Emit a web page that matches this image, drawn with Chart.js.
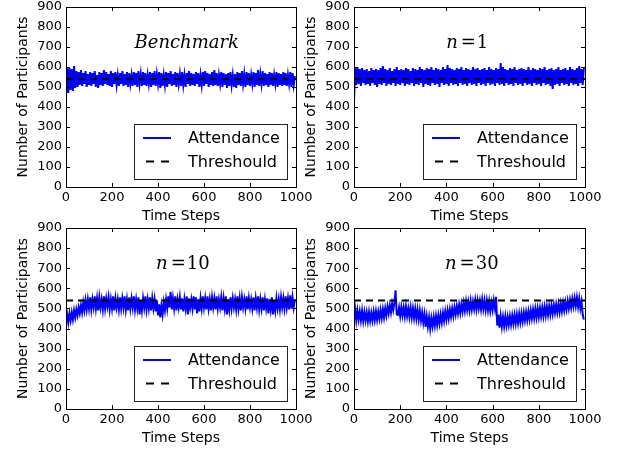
<!DOCTYPE html>
<html><head><meta charset="utf-8">
<script src="https://cdn.jsdelivr.net/npm/chart.js@4.4.1/dist/chart.umd.min.js"></script>
<style>
html,body{margin:0;padding:0;background:#fff;width:620px;height:451px;overflow:hidden}
canvas{position:absolute;left:0;top:0}
</style></head><body>
<canvas id="c0" width="620" height="451"></canvas>
<canvas id="c1" width="620" height="451"></canvas>
<canvas id="c2" width="620" height="451"></canvas>
<canvas id="c3" width="620" height="451"></canvas>
<script>
// ---------- data ----------
const timeSteps = Array.from({length: 200}, (_, i) => i * 5);   // sampled time steps 0..995
const thresholdValue = 540;
const xTickValues = [0, 200, 400, 600, 800, 1000];
const yTickValues = [0, 100, 200, 300, 400, 500, 600, 700, 800, 900];
const seriesLabels = ['Attendance', 'Threshould'];
const panelTitles = ['Benchmark', 'n=1', 'n=10', 'n=30'];

const benchmark = [
455,600,470,595,485,590,480,605,495,580,
500,575,510,585,505,570,515,580,500,565,
510,575,505,570,515,580,500,560,495,575,
510,570,505,585,515,575,510,565,505,580,
500,570,515,575,510,560,505,570,515,580,
505,565,510,575,500,570,515,560,505,575,
510,570,500,580,515,565,505,575,510,570,
505,560,515,575,500,570,510,580,505,565,
515,575,495,570,505,560,510,575,500,570,
515,580,505,565,510,575,500,570,515,565,
505,575,510,560,500,570,515,580,505,570,
510,565,505,575,515,570,500,560,510,575,
505,580,515,570,500,565,510,575,505,585,
510,570,505,560,515,575,500,570,510,565,
495,570,505,575,510,560,500,565,495,575,
510,570,505,580,515,565,500,575,510,570,
505,560,515,575,500,570,510,585,505,565,
515,580,505,570,510,565,500,575,510,570,
505,560,515,575,500,570,510,565,505,575,
510,570,505,560,515,575,500,570,510,555
];

const n1 = [
430,595,510,600,515,590,505,595,520,585,
510,590,515,580,505,595,520,585,510,590,
500,585,515,595,510,605,520,590,505,585,
515,595,510,580,520,590,505,600,515,585,
510,590,520,585,505,595,515,590,510,580,
520,595,505,590,515,585,510,600,520,590,
500,585,515,595,510,590,505,600,520,585,
510,595,515,590,500,585,520,600,510,590,
515,610,505,595,520,590,510,585,515,595,
505,590,520,600,510,585,515,595,505,590,
520,585,510,600,515,590,505,595,520,585,
510,590,515,595,505,585,520,600,510,590,
515,585,505,595,520,590,510,620,515,600,
505,590,520,585,510,595,515,590,505,600,
520,585,510,590,515,595,505,590,520,585,
510,600,515,585,505,595,520,590,510,585,
515,595,505,590,520,600,510,585,515,590,
505,595,490,585,510,590,515,600,505,585,
520,590,510,595,515,585,505,600,520,590,
510,585,515,595,505,605,520,590,510,595
];

const n10 = [
425,470,430,475,440,480,445,490,455,495,
465,505,475,515,480,530,490,540,495,545,
500,555,495,545,505,560,500,550,490,555,
505,545,495,560,500,550,510,555,495,545,
500,560,490,550,505,545,495,555,500,550,
505,560,495,545,490,555,500,550,505,560,
495,545,500,555,470,540,490,550,505,560,
495,545,500,555,490,550,500,545,485,540,
465,520,455,515,470,530,490,545,500,560,
505,583,495,550,500,560,490,545,505,555,
495,550,485,545,500,560,470,550,505,545,
500,560,495,555,475,545,485,550,500,560,
505,550,495,560,500,545,490,555,505,550,
495,560,500,545,505,555,490,550,500,560,
470,545,495,555,500,550,505,545,495,560,
500,550,490,555,505,545,500,560,495,550,
505,545,500,555,490,550,505,560,495,545,
500,555,490,545,500,550,475,545,495,555,
470,540,490,550,500,545,495,555,505,550,
500,560,505,550,495,565,500,555,505,545
];

const n30 = [
445,495,440,490,445,485,440,488,438,482,
440,480,436,482,438,478,440,484,442,486,
444,484,448,492,452,496,455,500,465,510,
475,515,480,525,492,530,590,470,468,505,
462,508,465,505,460,510,462,500,458,505,
455,500,452,498,450,495,445,490,440,480,
430,472,408,460,410,455,400,452,412,458,
415,462,418,465,425,470,430,478,438,485,
445,490,450,495,458,500,462,505,470,512,
475,518,478,522,485,528,488,535,492,532,
490,538,494,535,498,542,495,540,500,538,
495,545,498,540,492,538,490,535,488,530,
492,540,500,558,415,470,405,462,410,458,
412,460,415,458,418,462,420,465,424,468,
425,470,428,474,432,476,435,480,440,482,
442,486,446,490,450,494,452,498,455,500,
458,502,460,505,462,508,465,510,468,512,
470,515,474,518,478,520,480,522,482,525,
485,528,490,532,495,538,500,542,505,548,
510,552,512,555,508,550,500,535,470,445
];

// ---------- layout / style (not data) ----------
const panels = [
  {id: 'c0', series: benchmark, title: panelTitles[0], area: {l: 66,  t: 7,   r: 296, b: 187}, titleX: 525},
  {id: 'c1', series: n1,        title: panelTitles[1], area: {l: 354, t: 7,   r: 585, b: 187}, titleX: 490},
  {id: 'c2', series: n10,       title: panelTitles[2], area: {l: 66,  t: 228, r: 296, b: 409}, titleX: 508},
  {id: 'c3', series: n30,       title: panelTitles[3], area: {l: 354, t: 228, r: 585, b: 409}, titleX: 510},
];
const Y_AXIS_W = 52, X_AXIS_H = 38;
const SANS = '"DejaVu Sans", sans-serif';
const SERIF = '"DejaVu Serif", serif';

const framePlugin = {
  id: 'frameTicks',
  afterDatasetsDraw(chart) {
    const {ctx, chartArea: a, scales: {x, y}} = chart;
    ctx.save();
    ctx.strokeStyle = '#000';
    ctx.lineWidth = 1;
    ctx.beginPath();
    x.ticks.forEach(t => {
      const px = Math.round(x.getPixelForValue(t.value)) + 0.5;
      ctx.moveTo(px, a.bottom); ctx.lineTo(px, a.bottom - 4);
      ctx.moveTo(px, a.top); ctx.lineTo(px, a.top + 4);
    });
    y.ticks.forEach(t => {
      const py = Math.round(y.getPixelForValue(t.value)) + 0.5;
      ctx.moveTo(a.left, py); ctx.lineTo(a.left + 4, py);
      ctx.moveTo(a.right, py); ctx.lineTo(a.right - 4, py);
    });
    ctx.stroke();
    ctx.strokeRect(Math.round(a.left) + 0.5, Math.round(a.top) + 0.5,
                   Math.round(a.right) - Math.round(a.left), Math.round(a.bottom) - Math.round(a.top));
    ctx.restore();
  }
};

const legendPlugin = {
  id: 'insideLegend',
  afterDraw(chart) {
    const {ctx, chartArea: a} = chart;
    const w = 153, h = 55;
    const right = Math.round(a.right) - 9, bottom = Math.round(a.bottom) - 8;
    const left = right - w, top = bottom - h;
    ctx.save();
    ctx.fillStyle = '#fff';
    ctx.fillRect(left, top, w, h);
    ctx.strokeStyle = '#222';
    ctx.lineWidth = 1;
    ctx.strokeRect(left + 0.5, top + 0.5, w, h);
    const rows = [top + 14, top + 37.5];
    chart.data.datasets.forEach((ds, i) => {
      const yy = rows[i];
      ctx.beginPath();
      ctx.strokeStyle = ds.borderColor;
      ctx.lineWidth = 2;
      if (ds.borderDash && ds.borderDash.length) {
        ctx.setLineDash([8, 7]);
        ctx.moveTo(left + 12, yy); ctx.lineTo(left + 36, yy);
      } else {
        ctx.setLineDash([]);
        ctx.moveTo(left + 9, yy); ctx.lineTo(left + 37, yy);
      }
      ctx.stroke();
      ctx.setLineDash([]);
      ctx.fillStyle = '#000';
      ctx.font = '16px ' + SANS;
      ctx.textAlign = 'left';
      ctx.textBaseline = 'middle';
      ctx.fillText(ds.label, left + 54, yy + 1);
    });
    ctx.restore();
  }
};

const titlePlugin = {
  id: 'innerTitle',
  afterDraw(chart) {
    const opts = chart.options.plugins.innerTitle;
    const {ctx, scales: {x, y}} = chart;
    const cx = x.getPixelForValue(opts.x);
    const by = y.getPixelForValue(opts.y);
    ctx.save();
    ctx.fillStyle = '#000';
    ctx.textBaseline = 'alphabetic';
    const m = /^n=(\d+)$/.exec(opts.text);
    if (!m) {
      ctx.font = 'italic 18px ' + SERIF;
      ctx.textAlign = 'center';
      ctx.fillText(opts.text, cx, by);
    } else {
      const itFont = 'italic 18px ' + SERIF, rmFont = '18px ' + SERIF;
      ctx.font = itFont; const wn = ctx.measureText('n').width;
      ctx.font = rmFont; const we = ctx.measureText('=').width; const wd = ctx.measureText(m[1]).width;
      const total = wn + 3 + we + 1 + wd;
      let px = cx - total / 2;
      ctx.textAlign = 'left';
      ctx.font = itFont; ctx.fillText('n', px, by); px += wn + 3;
      ctx.font = rmFont; ctx.fillText('=', px, by); px += we + 1;
      ctx.fillText(m[1], px, by);
    }
    ctx.restore();
  }
};

function zeroPad(scale) {
  scale.paddingLeft = 0; scale.paddingRight = 0; scale.paddingTop = 0; scale.paddingBottom = 0;
}

panels.forEach(p => {
  const attendance = p.series.map((v, i) => ({x: timeSteps[i], y: v}));
  const threshold = [{x: xTickValues[0], y: thresholdValue}, {x: xTickValues[xTickValues.length - 1], y: thresholdValue}];
  new Chart(document.getElementById(p.id), {
    type: 'line',
    data: {
      datasets: [
        {label: seriesLabels[0], data: attendance, borderColor: '#0000ff', borderWidth: 2,
         pointRadius: 0, tension: 0, fill: false, order: 1},
        {label: seriesLabels[1], data: threshold, borderColor: '#000000', borderWidth: 2,
         borderDash: [7, 5], pointRadius: 0, tension: 0, fill: false, order: 0}
      ]
    },
    options: {
      responsive: false,
      animation: false,
      events: [],
      layout: {padding: {left: p.area.l - Y_AXIS_W, top: p.area.t, right: 620 - p.area.r, bottom: 451 - p.area.b - X_AXIS_H}},
      plugins: {
        legend: {display: false},
        tooltip: {enabled: false},
        innerTitle: {text: p.title, x: p.titleX, y: 695}
      },
      scales: {
        x: {
          type: 'linear', min: 0, max: 1000,
          grid: {display: false, drawTicks: false},
          border: {display: false},
          afterFit: s => { s.height = X_AXIS_H; zeroPad(s); },
          afterBuildTicks: s => { s.ticks = xTickValues.map(v => ({value: v})); },
          ticks: {color: '#000', padding: 3, maxRotation: 0, autoSkip: false,
                  font: {family: SANS, size: 13}, callback: v => String(v)},
          title: {display: true, text: 'Time Steps', color: '#000', padding: {top: 0, bottom: 0},
                  font: {family: SANS, size: 14}}
        },
        y: {
          type: 'linear', min: 0, max: 900,
          grid: {display: false, drawTicks: false},
          border: {display: false},
          afterFit: s => { s.width = Y_AXIS_W; zeroPad(s); },
          afterBuildTicks: s => { s.ticks = yTickValues.map(v => ({value: v})); },
          ticks: {color: '#000', padding: 4, autoSkip: false,
                  font: {family: SANS, size: 13}, callback: v => String(v)},
          title: {display: true, text: 'Number of Participants', color: '#000', padding: {top: 1, bottom: 0},
                  font: {family: SANS, size: 14}}
        }
      }
    },
    plugins: [framePlugin, legendPlugin, titlePlugin]
  });
});
</script>
</body></html>
